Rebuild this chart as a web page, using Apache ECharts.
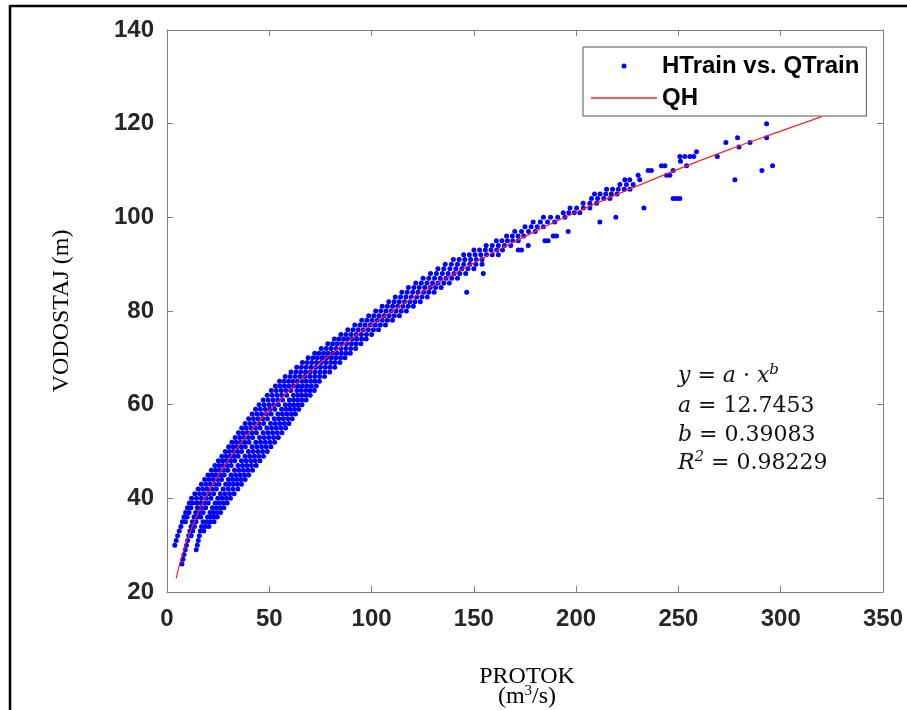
<!DOCTYPE html>
<html>
<head>
<meta charset="utf-8">
<style>
html,body{margin:0;padding:0;background:#fff;}
#chart{width:907px;height:710px;}
</style>
<script src="https://cdn.jsdelivr.net/npm/echarts@6.0.0/dist/echarts.min.js"></script>
</head>
<body>
<div id="chart"></div>
<script>
// ---- Data: each row = [H (m), Q values (m3/s)...] ----
const lowRows = [
  [26, 7.3],
  [27, 7.8],
  [28, 8.3],
  [29, 8.9, 14.3],
  [30, 3.8, 9.5, 14.8],
  [31, 4.5, 10.1, 15.3],
  [32, 5.2, 10.6, 11.8, 15.8],
  [33, 6, 11.2, 12.6, 16.3, 18],
  [34, 6.8, 11.8, 13.4, 16.9, 18.7, 20.5],
  [35, 7.5, 9, 12.4, 14.2, 17.6, 19.4, 21.2, 23],
  [36, 8.3, 9.9, 13.2, 15, 16.5, 19.8, 21.4, 23, 24.6],
  [37, 9.1, 10.8, 14, 15.9, 17.7, 21, 22.7, 24.4, 26.2],
  [38, 10, 11.7, 14.8, 16.8, 18.9, 22.2, 24.1, 26, 27.8],
  [39, 10.9, 12.6, 14.6, 16.5, 18.3, 20.2, 23.5, 25.5, 27.5, 29.4]
];
const splitRows = [
  [40, 12, 14.4, 16.8, 19.2, 21.5, 24.8, 26.9, 29, 31],
  [41, 13.6, 15.9, 18.2, 20.5, 22.8, 26.1, 28.3, 30.6, 32.8],
  [42, 15.2, 17.4, 19.6, 21.9, 24.1, 27.4, 29.8, 32.2, 34.6],
  [43, 16.8, 19, 21.2, 23.3, 25.4, 28.7, 30.6, 32.5, 34.5, 36.4],
  [44, 18.4, 20.5, 22.6, 24.6, 26.7, 30, 32.1, 34.1, 36.2, 38.2],
  [45, 20, 22, 24, 26, 28, 31.3, 33.5, 35.7, 37.9, 40],
  [46, 21.7, 23.7, 25.7, 27.7, 29.7, 33, 35.2, 37.4, 39.6, 41.8],
  [47, 23.4, 25.4, 27.4, 29.4, 31.4, 34.7, 36.9, 39.1, 41.3, 43.6],
  [48, 25.1, 27.1, 29.1, 31.1, 33.1, 36.4, 38.6, 40.9, 43.1, 45.4],
  [49, 26.8, 28.8, 30.8, 32.8, 34.8, 38.1, 40.4, 42.7, 44.9, 47.2],
  [50, 28.5, 30.5, 32.5, 34.5, 36.5, 39.8, 42.1, 44.4, 46.7, 49],
  [51, 30.1, 32.2, 34.2, 36.3, 38.3, 41.6, 43.9, 46.2, 48.5, 50.8],
  [52, 31.7, 33.8, 35.9, 38, 40.1, 43.4, 45.7, 48, 50.3, 52.6],
  [53, 33.3, 35.5, 37.6, 39.8, 41.9, 45.2, 47.5, 49.8, 52.1, 54.4],
  [54, 34.9, 37.1, 39.3, 41.5, 43.7, 47, 49.3, 51.6, 53.9, 56.2],
  [55, 36.5, 38.7, 41, 43.2, 45.5, 48.8, 51.1, 53.4, 55.7, 58],
  [56, 38.2, 40.5, 42.8, 45, 47.3, 50.6, 52.9, 55.1, 57.4, 59.6],
  [57, 39.9, 42.2, 44.5, 46.8, 49.1, 52.4, 54.6, 56.8, 59, 61.2],
  [58, 41.6, 43.9, 46.2, 48.6, 50.9, 54.2, 56.4, 58.6, 60.8, 62.8],
  [59, 43.3, 45.6, 48, 50.3, 52.7, 56, 58.1, 60.2, 62.3, 64.4],
  [60, 45, 47.4, 49.8, 52.1, 54.5, 57.8, 59.9, 61.9, 64, 66],
  [61, 47, 49.4, 51.8, 54.1, 56.5, 59.8, 61.9, 63.9, 66, 68],
  [62, 49, 51.4, 53.8, 56.1, 58.5, 61.8, 63.9, 65.9, 68, 70],
  [63, 51, 53.4, 55.8, 58.1, 60.5, 63.5, 65.6, 67.8, 69.9, 72]
];
const mainRows = [
  [64, 53, 55.2, 57.4, 59.6, 61.8, 64, 66.2, 68.4, 70.6, 73],
  [65, 55, 57.2, 59.4, 61.5, 63.7, 65.9, 68, 70.2, 72.3, 74.5],
  [66, 57.8, 60.2, 62.6, 65, 67.4, 69.8, 72.2, 74.6, 77],
  [67, 60.6, 63, 65.3, 67.7, 70, 72.4, 74.8, 77.1, 79.5],
  [68, 63.4, 65.7, 68, 70.4, 72.7, 75, 77.4, 79.7, 82],
  [69, 66.2, 68.5, 70.8, 73.1, 75.4, 77.7, 80, 82.2, 84.5],
  [70, 69, 71.3, 73.5, 75.8, 78, 80.3, 82.5, 84.8, 87],
  [71, 72.2, 74.4, 76.6, 78.7, 80.9, 83.1, 85.3, 87.5, 89.6],
  [72, 75.4, 77.8, 80.2, 82.6, 85, 87.4, 89.8, 92.2],
  [73, 78.6, 80.9, 83.2, 85.5, 87.8, 90.2, 92.5, 94.8],
  [74, 81.8, 84, 86.3, 88.5, 90.7, 92.9, 95.2, 97.4],
  [75, 85, 87.5, 90, 92.5, 95, 97.5, 100],
  [76, 88.4, 90.9, 93.4, 95.9, 98.4, 100.9, 103.4],
  [77, 91.8, 94.3, 96.8, 99.3, 101.8, 104.3, 106.8],
  [78, 95.2, 97.7, 100.2, 102.7, 105.2, 107.7, 110.2],
  [79, 98.6, 101.1, 103.6, 106.1, 108.6, 111.1, 113.6],
  [80, 102, 104.5, 107, 109.5, 112, 114.5, 117],
  [81, 105.2, 107.7, 110.3, 112.8, 115.3, 117.9, 120.4],
  [82, 108.4, 111, 113.5, 116.1, 118.7, 121.2, 123.8],
  [83, 111.6, 114.2, 116.8, 119.4, 122, 124.6, 127.2],
  [84, 114.8, 117.4, 120.1, 122.7, 125.4, 128, 130.6, 146.5],
  [85, 118, 120.7, 123.3, 126, 128.7, 131.3, 134],
  [86, 121.6, 124.3, 127.1, 129.8, 132.5, 135.3, 138],
  [87, 125.2, 128, 130.8, 133.6, 136.4, 139.2, 142],
  [88, 128.8, 131.7, 134.6, 137.4, 140.3, 143.1, 146, 154.6],
  [89, 132.4, 135.3, 138.3, 141.2, 144.1, 147.1, 150],
  [90, 136, 139, 142, 145, 148, 151, 154]
];
const upperRows = [
  [91, 140, 142.8, 145.6, 148.4, 151.2, 154],
  [92, 145, 147.8, 150.6, 153.4, 156.2, 159, 162],
  [93, 150, 152.8, 155.6, 158.4, 161.2, 164, 171.7, 173.3],
  [94, 156, 159, 162, 165, 168, 176.6],
  [95, 161, 163.7, 166.4, 169, 171.7, 184.7, 186.3],
  [96, 166, 168.8, 171.6, 174.4, 188.8, 190.4],
  [97, 170, 173.3, 176.7, 180, 196.1],
  [98, 175, 178, 181, 184],
  [99, 179, 182.5, 186, 189.5, 211.6],
  [100, 184, 187.5, 191, 194.5, 219.4],
  [101, 193.7, 196.4, 199.1, 201.8],
  [102, 197, 200.2, 203.5, 206.7, 233.1],
  [103, 203.4, 206.7, 210],
  [104, 207.5, 210.5, 213.5, 216.5, 247.4, 249, 250.7],
  [105, 209, 211.7, 214.5, 217.2, 220],
  [106, 214.9, 217.8, 220.6, 223.5, 226.3],
  [107, 221.4, 224.6, 227.9],
  [108, 223.8, 226.2, 231.1, 277.6],
  [109, 230.3, 244.2, 245.8],
  [110, 235.2, 236.8, 247.4, 290.8],
  [111, 241.7, 243.4, 254, 296],
  [112, 251],
  [113, 250.7, 253.1, 255.6, 257.5, 269],
  [114, 258.8],
  [115, 279.6],
  [116, 273.2, 285],
  [117, 278.9, 293.1],
  [120, 293.1]
];
// fitted curve QH
const fitQ = [4.5, 5, 7, 10, 15, 20, 30, 40, 50, 60, 70, 80, 90, 100, 120, 140, 160, 180, 200, 225, 250, 275, 300, 320];
const fitH = [22.9, 23.9, 27.3, 31.4, 36.7, 41.1, 48.2, 53.9, 58.8, 63.1, 67.1, 70.7, 74.0, 77.1, 82.8, 87.9, 92.6, 97.0, 101.1, 105.8, 110.3, 114.5, 118.4, 121.5];
const xTicks = {min: 0, max: 350, step: 50};
const yTicks = {min: 20, max: 140, step: 20};
const seriesNames = ['HTrain vs. QTrain', 'QH'];
const eqLines = [
  '{i|y} = {i|a} · {i|x}{s|b}',
  '{i|a} = 12.7453',
  '{i|b} = 0.39083',
  '{i|R}{s|2} = 0.98229'
];

function rowsToPoints(rows) {
  const pts = [];
  rows.forEach(function (r) {
    for (let i = 1; i < r.length; i++) pts.push([r[i], r[0]]);
  });
  return pts;
}
const scatterData = [].concat(
  rowsToPoints(lowRows), rowsToPoints(splitRows),
  rowsToPoints(mainRows), rowsToPoints(upperRows)
);
const lineData = fitQ.map(function (q, i) { return [q, fitH[i]]; });

const axisGray = '#7f7f7f';
const redColor = '#ff2020';
const labelFont = {color: '#262626', fontFamily: 'Liberation Sans, Arial, sans-serif', fontWeight: 'bold', fontSize: 24};

function xAxisDef(pos, showLabel) {
  return {
    type: 'value', position: pos, min: xTicks.min, max: xTicks.max, interval: xTicks.step,
    axisLine: {show: true, onZero: false, lineStyle: {color: axisGray, width: 1}},
    axisTick: {show: true, inside: true, length: 6, lineStyle: {color: axisGray, width: 1}},
    axisLabel: Object.assign({show: showLabel, margin: 15}, labelFont),
    splitLine: {show: false}
  };
}
function yAxisDef(pos, showLabel) {
  return {
    type: 'value', position: pos, min: yTicks.min, max: yTicks.max, interval: yTicks.step,
    axisLine: {show: true, onZero: false, lineStyle: {color: axisGray, width: 1}},
    axisTick: {show: true, inside: true, length: 6, lineStyle: {color: axisGray, width: 1}},
    axisLabel: Object.assign({show: showLabel, margin: 13}, labelFont),
    splitLine: {show: false}
  };
}

const eqRich = {
  i: {fontFamily: 'DejaVu Serif', fontStyle: 'italic', fontSize: 22, lineHeight: 26, fill: '#111', color: '#111'},
  s: {fontFamily: 'DejaVu Serif', fontStyle: 'italic', fontSize: 15, lineHeight: 15, verticalAlign: 'top', fill: '#111', color: '#111'}
};
const eqY = [376, 406, 435, 463];
const eqGraphics = eqLines.map(function (t, k) {
  return {
    type: 'text', x: 678, y: eqY[k], z: 10,
    style: {
      text: t, rich: eqRich, fill: '#111', fontFamily: 'DejaVu Serif', fontSize: 22, lineHeight: 26,
      align: 'left', verticalAlign: 'middle'
    }
  };
});

const chart = echarts.init(document.getElementById('chart'), null, {renderer: 'canvas', width: 907, height: 710});
chart.setOption({
  animation: false,
  backgroundColor: '#ffffff',
  grid: {left: 167, right: 24, top: 30, bottom: 118, outerBoundsMode: 'none'},
  xAxis: [xAxisDef('bottom', true), xAxisDef('top', false)],
  yAxis: [yAxisDef('left', true), yAxisDef('right', false)],
  legend: {
    orient: 'vertical', left: 583, top: 47,
    padding: [7, 7, 6, 8], itemGap: 8, itemWidth: 66, itemHeight: 5,
    backgroundColor: '#fff', borderColor: '#555', borderWidth: 1, borderRadius: 0,
    selectedMode: false,
    textStyle: {fontFamily: 'Liberation Sans, Arial, sans-serif', fontWeight: 'bold', fontSize: 24, color: '#000', lineHeight: 24},
    data: [
      {name: seriesNames[0], icon: 'circle'},
      {name: seriesNames[1], icon: 'path://M0,0L100,0L100,2L0,2Z', itemStyle: {color: redColor}}
    ]
  },
  series: [
    {
      name: seriesNames[0], type: 'scatter', xAxisIndex: 0, yAxisIndex: 0,
      data: scatterData, symbol: 'circle', symbolSize: 5,
      itemStyle: {color: '#0000ff', opacity: 1}, z: 2
    },
    {
      name: seriesNames[1], type: 'line', xAxisIndex: 0, yAxisIndex: 0,
      data: lineData, smooth: 0.3, symbol: 'none', showSymbol: false,
      lineStyle: {color: redColor, width: 1.2}, itemStyle: {color: redColor}, z: 3
    }
  ],
  graphic: [
    {type: 'line', shape: {x1: 10, y1: 6, x2: 907, y2: 6}, style: {stroke: '#000', lineWidth: 2.5}, z: 20},
    {type: 'line', shape: {x1: 10, y1: 5, x2: 10, y2: 710}, style: {stroke: '#000', lineWidth: 2.5}, z: 20},
    {
      type: 'text', x: 62, y: 311, rotation: Math.PI / 2,
      style: {text: 'VODOSTAJ (m)', fontFamily: 'Liberation Serif, Times New Roman, serif', fontSize: 24, fill: '#000', align: 'center', verticalAlign: 'middle'}
    },
    {
      type: 'text', x: 527, y: 677,
      style: {text: 'PROTOK', fontFamily: 'Liberation Serif, Times New Roman, serif', fontSize: 24, fill: '#000', align: 'center', verticalAlign: 'middle'}
    },
    {
      type: 'text', x: 527, y: 697,
      style: {
        text: '(m{sup|3}/s)', fontFamily: 'Liberation Serif, Times New Roman, serif', fontSize: 24, lineHeight: 26, fill: '#000',
        align: 'center', verticalAlign: 'middle',
        rich: {sup: {fontFamily: 'Liberation Serif, Times New Roman, serif', fontSize: 15, lineHeight: 17, verticalAlign: 'top', fill: '#000'}}
      }
    }
  ].concat(eqGraphics)
});
</script>
</body>
</html>
